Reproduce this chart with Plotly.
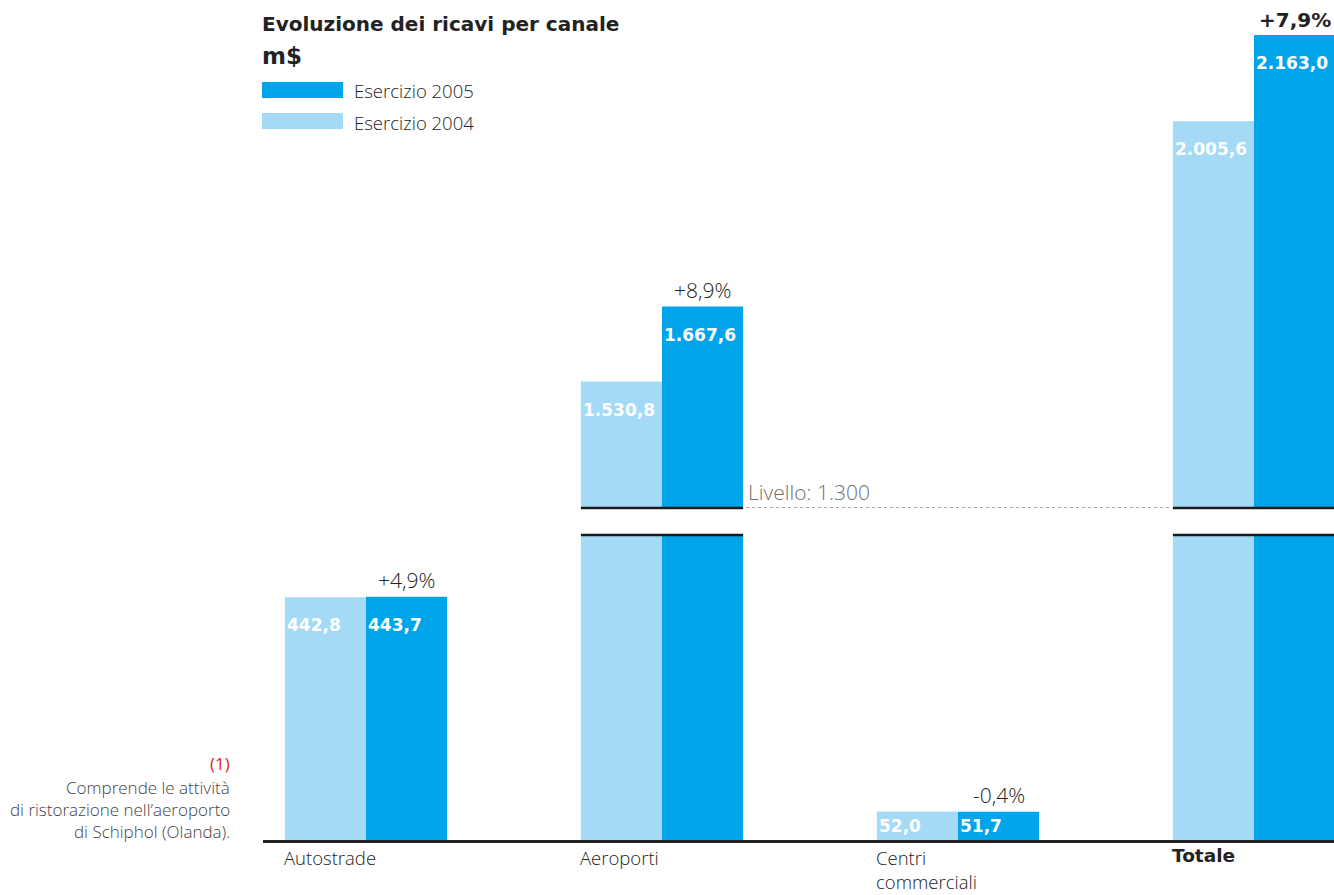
import plotly.graph_objects as go

# Revenue by channel (m$), fiscal years 2004 and 2005
categories = ["Autostrade", "Aeroporti", "Centri<br>commerciali", "Totale"]
ricavi_2004 = [442.8, 1530.8, 52.0, 2005.6]
ricavi_2005 = [443.7, 1667.6, 51.7, 2163.0]
variazioni = ["+4,9%", "+8,9%", "-0,4%", "+7,9%"]
series_names = ["Esercizio 2005", "Esercizio 2004"]

C_2005 = "#00a5e9"
C_2004 = "#a4daf6"
INK = "#222222"
REG = "Open Sans"
BOLD = "DejaVu Sans"

W, H = 1334, 895
ML, MR, MT, MB = 263, 0, 0, 55
PH = H - MT - MB          # plot height in px
PW = W - ML - MR          # plot width in px

SCALE = 0.548             # px per m$
BREAK = 1300              # lower limit of the upper panel
LOW_TOP_PX = 535          # top of the lower panel (page px)
UP_BOT_PX = 508           # bottom of the upper panel (page px)
BASE_PX = H - MB          # baseline (page px)

low_max = (BASE_PX - LOW_TOP_PX) / SCALE
up_max = BREAK + (UP_BOT_PX - MT) / SCALE

BW = 0.274                # bar width in category units
x_idx = list(range(len(categories)))
x_range = [-(366 - ML) / 296, (W - 366) / 296]


def fmt_it(v):
    s = f"{v:,.1f}"
    return s.replace(",", "X").replace(".", ",").replace("X", ".")


def py(px):
    """page y pixel -> paper coordinate"""
    return (BASE_PX - px) / PH


def px_(px):
    """page x pixel -> paper coordinate"""
    return (px - ML) / PW


def reg(size, color=INK, weight=400):
    return dict(family=REG, size=size, color=color, weight=weight)


def bold(size, color=INK):
    return dict(family=BOLD, size=size, color=color, weight="bold")


fig = go.Figure()
for axis_y, axis_x in (("y", "x"), ("y2", "x2")):
    fig.add_trace(go.Bar(x=x_idx, y=ricavi_2004, width=BW, offset=-BW,
                         marker=dict(color=C_2004, line=dict(width=0)),
                         xaxis=axis_x, yaxis=axis_y, showlegend=False,
                         hoverinfo="skip"))
    fig.add_trace(go.Bar(x=x_idx, y=ricavi_2005, width=BW, offset=0,
                         marker=dict(color=C_2005, line=dict(width=0)),
                         xaxis=axis_x, yaxis=axis_y, showlegend=False,
                         hoverinfo="skip"))

annotations = []
shapes = []

# value labels inside the bars
for i in x_idx:
    for vals, x0 in ((ricavi_2004, i - BW), (ricavi_2005, i)):
        v = vals[i]
        yref = "y2" if v > BREAK else "y"
        if v * SCALE < 54:
            yv, ysh = v / 2, 0
        else:
            yv, ysh = v, -28
        annotations.append(dict(
            x=x0, y=yv, xref="x", yref=yref, xanchor="left", yanchor="middle",
            xshift=0, yshift=ysh, showarrow=False, text=fmt_it(v),
            font=bold(17, "white")))

# growth labels above the 2005 bars
for i in x_idx:
    v = ricavi_2005[i]
    yref = "y2" if v > BREAK else "y"
    is_total = categories[i] == "Totale"
    annotations.append(dict(
        x=i + BW / 2, y=v, xref="x", yref=yref, xanchor="center",
        yanchor="bottom", yshift=1, showarrow=False, text=variazioni[i],
        font=bold(20) if is_total else reg(21, weight=300)))

# category labels under the baseline
for i in x_idx:
    is_total = categories[i] == "Totale"
    annotations.append(dict(
        x=i - BW, y=py(BASE_PX + 4), xref="x", yref="paper",
        xanchor="left", yanchor="top", xshift=-2, showarrow=False,
        borderpad=0, align="left", text=categories[i],
        font=bold(18.5) if is_total else reg(18.5, weight=300)))

# axis-break edges on the bars that exceed the lower panel
for i in x_idx:
    if ricavi_2005[i] > low_max:
        for ypx in (UP_BOT_PX, LOW_TOP_PX):
            shapes.append(dict(type="line", xref="x", yref="paper",
                               x0=i - BW, x1=i + BW, y0=py(ypx), y1=py(ypx),
                               line=dict(color="#1a1a1a", width=2.5)))

# reference level between the broken bars
shapes.append(dict(type="line", xref="x", yref="y2",
                   x0=1 + BW + 0.01, x1=3 - BW - 0.005, y0=BREAK, y1=BREAK,
                   line=dict(color="#8a8a8a", width=1.5, dash="dot")))
annotations.append(dict(
    x=1 + BW, y=BREAK, xref="x", yref="y2", xanchor="left", yanchor="bottom",
    xshift=3, yshift=0, showarrow=False, text="Livello: 1.300",
    font=reg(21, "#707070", weight=300)))

# title block
annotations.append(dict(
    x=px_(260), y=py(24), xref="paper", yref="paper", xanchor="left",
    yanchor="middle", showarrow=False, text="Evoluzione dei ricavi per canale",
    font=bold(20)))
annotations.append(dict(
    x=px_(260), y=py(56), xref="paper", yref="paper", xanchor="left",
    yanchor="middle", showarrow=False, text="m$",
    font=bold(23)))

# legend
for name, color, ymid in ((series_names[0], C_2005, 90),
                          (series_names[1], C_2004, 121)):
    shapes.append(dict(type="rect", xref="paper", yref="paper",
                       x0=px_(262), x1=px_(343), y0=py(ymid - 8), y1=py(ymid + 8),
                       fillcolor=color, line=dict(width=0)))
    annotations.append(dict(
        x=px_(352), y=py(ymid + 1), xref="paper", yref="paper", xanchor="left",
        yanchor="middle", showarrow=False, text=name,
        font=reg(18.5, weight=300)))

# footnote
annotations.append(dict(
    x=px_(232), y=py(763), xref="paper", yref="paper", xanchor="right",
    yanchor="middle", showarrow=False, text="(1)",
    font=reg(17, "#e2231a")))
for text, ymid in (("Comprende le attività", 787),
                   ("di ristorazione nell’aeroporto", 809),
                   ("di Schiphol (Olanda).", 831)):
    annotations.append(dict(
        x=px_(232), y=py(ymid), xref="paper", yref="paper", xanchor="right",
        yanchor="middle", showarrow=False, text=text,
        font=reg(17, "#444444", weight=300)))

fig.update_layout(
    width=W, height=H,
    margin=dict(l=ML, r=MR, t=MT, b=MB),
    paper_bgcolor="white", plot_bgcolor="white",
    showlegend=False,
    xaxis=dict(range=x_range, domain=[0, 1], anchor="y", showgrid=False,
               zeroline=False, showticklabels=False, ticks="",
               showline=True, linecolor=INK, linewidth=2.5, fixedrange=True),
    xaxis2=dict(range=x_range, domain=[0, 1], anchor="y2", matches="x",
                visible=False),
    yaxis=dict(range=[0, low_max], domain=[0, (BASE_PX - LOW_TOP_PX) / PH],
               visible=False),
    yaxis2=dict(range=[BREAK, up_max], domain=[py(UP_BOT_PX), 1],
                visible=False),
    shapes=shapes,
    annotations=annotations,
)

fig.write_html("out.html")
